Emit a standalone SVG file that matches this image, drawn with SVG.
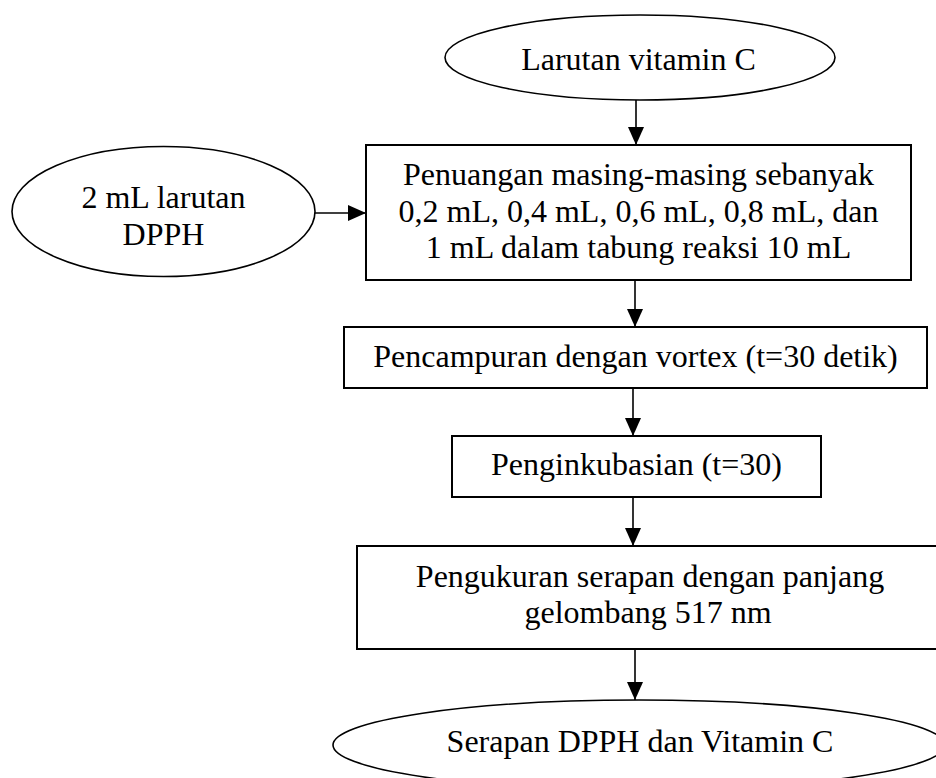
<svg xmlns="http://www.w3.org/2000/svg" width="936" height="778" viewBox="0 0 936 778">
<style>
.shape{fill:#fff;stroke:#000;stroke-width:2}
.ell{fill:#fff;stroke:#000;stroke-width:1.6}
.t{font-family:"Liberation Serif","Times New Roman",serif;font-size:32px;fill:#000;text-anchor:middle}
.c{stroke:#000;stroke-width:1.6;fill:none;marker-end:url(#ah)}
</style>
<defs>
<marker id="ah" markerUnits="userSpaceOnUse" markerWidth="18" markerHeight="18" viewBox="0 0 18 16" refX="18" refY="8" orient="auto">
<path d="M0,0 L18,8 L0,16 Z" fill="#000"/>
</marker>
</defs>
<rect width="936" height="778" fill="#fff"/>
<g id="connectors">
<line class="c" x1="636" y1="100" x2="636" y2="145"/>
<line class="c" x1="315" y1="213" x2="366" y2="213"/>
<line class="c" x1="635" y1="281" x2="635" y2="327"/>
<line class="c" x1="633" y1="389" x2="633" y2="436"/>
<line class="c" x1="633" y1="498" x2="633" y2="546"/>
<line class="c" x1="635" y1="650" x2="635" y2="700"/>
</g>
<g id="node-vitc">
<ellipse class="ell" cx="640" cy="57.5" rx="195" ry="42.5"/>
<text class="t" x="638.5" y="70">Larutan vitamin C</text>
</g>
<g id="node-dpph">
<ellipse class="ell" cx="163.5" cy="211.5" rx="151.5" ry="65"/>
<text class="t" x="163.5" y="208">2 mL larutan</text>
<text class="t" x="163.5" y="245">DPPH</text>
</g>
<g id="node-penuangan">
<rect class="shape" x="366" y="145" width="545" height="135"/>
<text class="t" x="638.5" y="185">Penuangan masing-masing sebanyak</text>
<text class="t" x="638.5" y="222">0,2 mL, 0,4 mL, 0,6 mL, 0,8 mL, dan</text>
<text class="t" x="638.5" y="258">1 mL dalam tabung reaksi 10 mL</text>
</g>
<g id="node-pencampuran">
<rect class="shape" x="344" y="327" width="583" height="61"/>
<text class="t" x="635.5" y="367">Pencampuran dengan vortex (t=30 detik)</text>
</g>
<g id="node-inkubasi">
<rect class="shape" x="452" y="436" width="369" height="61"/>
<text class="t" x="636.5" y="475">Penginkubasian (t=30)</text>
</g>
<g id="node-pengukuran">
<rect class="shape" x="357" y="546" width="584" height="103"/>
<text class="t" x="650" y="587">Pengukuran serapan dengan panjang</text>
<text class="t" x="648" y="623">gelombang 517 nm</text>
</g>
<g id="node-serapan">
<ellipse class="ell" cx="639" cy="745" rx="306" ry="45"/>
<text class="t" x="640" y="752">Serapan DPPH dan Vitamin C</text>
</g>
</svg>
